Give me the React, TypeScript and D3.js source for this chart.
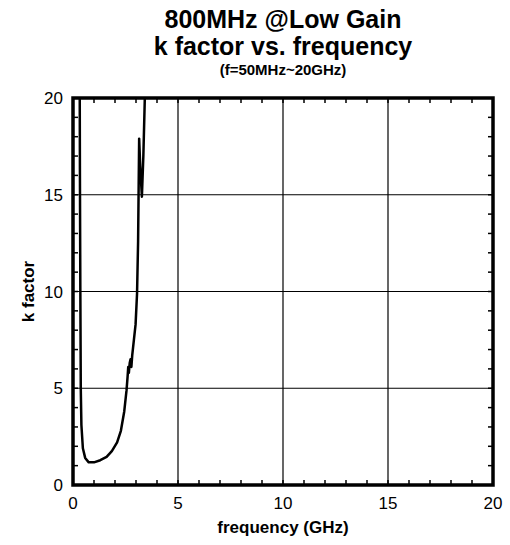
import React from "react";
import * as d3 from "d3";

const freqGHz = [0.05, 0.15, 0.25, 0.31, 0.33, 0.35, 0.37, 0.4, 0.47, 0.58, 0.75, 1.0, 1.3, 1.6, 1.85, 2.1, 2.28, 2.44, 2.55, 2.6, 2.63, 2.66, 2.7, 2.74, 2.78, 2.82, 2.9, 2.98, 3.05, 3.1, 3.15, 3.2, 3.28, 3.35, 3.42, 3.5];
const kFactor = [400, 200, 60, 25, 16, 10, 5.0, 3.1, 1.9, 1.4, 1.17, 1.17, 1.28, 1.45, 1.75, 2.2, 2.8, 3.8, 4.9, 5.6, 6.1, 5.8, 6.3, 6.5, 6.1, 6.7, 7.5, 8.3, 9.9, 12.6, 17.9, 16.5, 14.9, 17, 20, 25];

const xTicks = [0, 5, 10, 15, 20];
const yTicks = [0, 5, 10, 15, 20];
const titleLines = ["800MHz @Low Gain", "k factor vs. frequency"];
const subtitle = "(f=50MHz~20GHz)";
const xLabel = "frequency (GHz)";
const yLabel = "k factor";

export default function App() {
  const W = 510, H = 545;
  const left = 73, right = 493, top = 98, bottom = 485;
  const x = d3.scaleLinear().domain([0, 20]).range([left, right]);
  const y = d3.scaleLinear().domain([0, 20]).range([bottom, top]);
  const line = d3.line<number>().x((_, i) => x(freqGHz[i])).y((d) => y(d));
  const minor = d3.range(0, 21, 1);
  const font = "Liberation Sans, Arial, sans-serif";
  const tl = 5;
  return (
    <svg width={W} height={H} style={{ position: "absolute", left: 0, top: 0, background: "#fff" }} fontFamily={font}>
      <defs>
        <clipPath id="plot">
          <rect x={left} y={top} width={right - left} height={bottom - top} />
        </clipPath>
      </defs>
      {xTicks.slice(1, -1).map((t) => (
        <line key={"gx" + t} x1={x(t)} x2={x(t)} y1={top} y2={bottom} stroke="#000" strokeWidth={1.2} />
      ))}
      {yTicks.slice(1, -1).map((t) => (
        <line key={"gy" + t} x1={left} x2={right} y1={y(t)} y2={y(t)} stroke="#000" strokeWidth={1.2} />
      ))}
      {minor.map((t) => (
        <g key={"m" + t}>
          <line x1={x(t)} x2={x(t)} y1={bottom} y2={bottom - tl} stroke="#000" strokeWidth={1.5} />
          <line x1={x(t)} x2={x(t)} y1={top} y2={top + tl} stroke="#000" strokeWidth={1.5} />
          <line x1={left} x2={left + tl} y1={y(t)} y2={y(t)} stroke="#000" strokeWidth={1.5} />
          <line x1={right} x2={right - tl} y1={y(t)} y2={y(t)} stroke="#000" strokeWidth={1.5} />
        </g>
      ))}
      <path d={line(kFactor) || ""} fill="none" stroke="#000" strokeWidth={2.5} strokeLinejoin="round" clipPath="url(#plot)" />
      <rect x={left} y={top} width={right - left} height={bottom - top} fill="none" stroke="#000" strokeWidth={3.5} />
      {xTicks.map((t) => (
        <text key={"xl" + t} x={x(t)} y={509} textAnchor="middle" fontSize={17}>{t}</text>
      ))}
      {yTicks.map((t) => (
        <text key={"yl" + t} x={63} y={y(t) + 6} textAnchor="end" fontSize={17}>{t}</text>
      ))}
      <text x={(left + right) / 2} y={28} textAnchor="middle" fontSize={25} fontWeight="bold">{titleLines[0]}</text>
      <text x={(left + right) / 2} y={55} textAnchor="middle" fontSize={25} fontWeight="bold">{titleLines[1]}</text>
      <text x={(left + right) / 2} y={75} textAnchor="middle" fontSize={15} fontWeight="bold">{subtitle}</text>
      <text x={(left + right) / 2} y={533} textAnchor="middle" fontSize={17} fontWeight="bold">{xLabel}</text>
      <text transform={`translate(34,${(top + bottom) / 2}) rotate(-90)`} textAnchor="middle" fontSize={17} fontWeight="bold">{yLabel}</text>
    </svg>
  );
}
